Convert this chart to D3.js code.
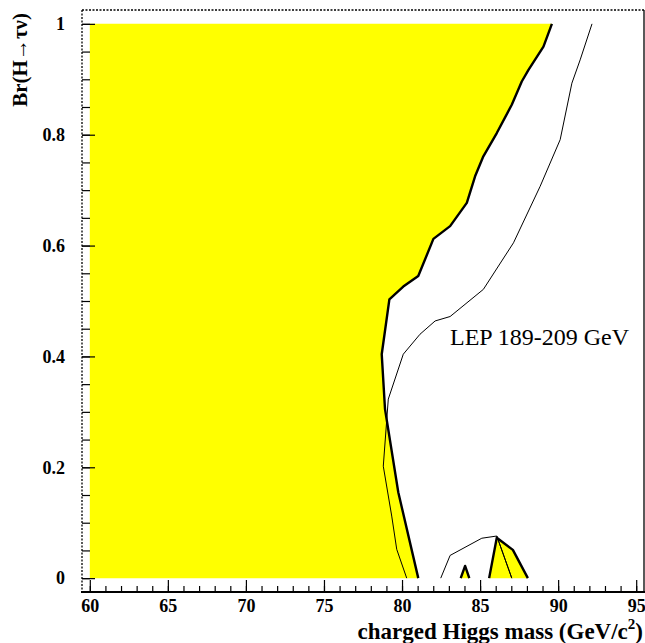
<!DOCTYPE html>
<html>
<head>
<meta charset="utf-8">
<script src="https://cdn.jsdelivr.net/npm/d3@7"></script>
<style>
  html, body { margin: 0; padding: 0; background: #fff; }
  svg text { font-family: "Liberation Serif", "Times New Roman", serif; }
</style>
</head>
<body>
<div id="chart"></div>
<script>
// x ticks (charged Higgs mass) and y ticks (branching ratio)
const xMajor = [60, 65, 70, 75, 80, 85, 90, 95];
const xMinor = d3.range(60, 96, 1);
const yMajor = [0, 0.2, 0.4, 0.6, 0.8, 1];
const yMinor = d3.range(0, 1.0001, 0.05);

// observed exclusion boundary (thick line), main region, top -> bottom
const obsMass = [89.6, 89.06, 88.10, 87.67, 87.03, 86.07, 85.21, 84.68, 84.15, 83.08, 82.01, 81.04, 80.08, 79.19, 78.70, 78.91, 79.76, 81.04];
const obsBr   = [1.0, 0.959, 0.917, 0.896, 0.854, 0.803, 0.761, 0.725, 0.677, 0.635, 0.612, 0.545, 0.526, 0.503, 0.404, 0.305, 0.155, 0.0];

// small excluded islands
const islandAMass = [83.76, 84.04, 84.31];
const islandABr   = [0, 0.022, 0];
const islandBMass = [85.58, 86.07, 87.10, 88.06];
const islandBBr   = [0, 0.073, 0.051, 0];

// expected limit (thin line)
const expMass = [92.17, 91.41, 90.88, 90.13, 88.85, 87.14, 85.21, 83.08, 82.12, 81.15, 80.08, 79.12, 78.80, 79.34, 79.66, 80.30];
const expBr   = [1.0, 0.935, 0.893, 0.791, 0.707, 0.605, 0.521, 0.472, 0.464, 0.44, 0.404, 0.323, 0.202, 0.112, 0.052, 0.0];
const exp2Mass = [82.48, 83.08, 85.11, 86.07, 87.03];
const exp2Br   = [0, 0.041, 0.072, 0.076, 0];

const W = 645, H = 643;
const frame = {left: 82, right: 644, top: 10, bottom: 592};
const serif = '"Liberation Serif", "Times New Roman", serif';

const svg = d3.select('#chart').append('svg')
  .attr('width', W).attr('height', H);

const x = d3.scaleLinear().domain([59.5, 95.5]).range([frame.left, frame.right]);
const y = d3.scaleLinear().domain([-0.025, 1.025]).range([frame.bottom, frame.top]);

const zip = (ms, bs) => ms.map((m, i) => [m, bs[i]]);
const line = d3.line().x(d => x(d[0])).y(d => y(d[1]));

// yellow excluded area
const mainPoly = [[60, 0], [60, 1]].concat(zip(obsMass, obsBr));
svg.append('path').attr('d', line(mainPoly) + 'Z').attr('fill', '#ffff00');
[[islandAMass, islandABr], [islandBMass, islandBBr]].forEach(([m, b]) => {
  svg.append('path').attr('d', line(zip(m, b)) + 'Z').attr('fill', '#ffff00');
});

// expected limit
svg.append('path').attr('d', line(zip(expMass, expBr)))
  .attr('fill', 'none').attr('stroke', '#000').attr('stroke-width', 1);
svg.append('path').attr('d', line(zip(exp2Mass, exp2Br)))
  .attr('fill', 'none').attr('stroke', '#000').attr('stroke-width', 1);
// inner expected line inside island B
svg.append('path').attr('d', line([[exp2Mass[3], exp2Br[3]], [exp2Mass[4], exp2Br[4]]]))
  .attr('fill', 'none').attr('stroke', '#000').attr('stroke-width', 1);

// observed boundary
[[obsMass, obsBr], [islandAMass, islandABr], [islandBMass, islandBBr]].forEach(([m, b]) => {
  svg.append('path').attr('d', line(zip(m, b)))
    .attr('fill', 'none').attr('stroke', '#000').attr('stroke-width', 2.4)
    .attr('stroke-linejoin', 'round');
});

// axes (ticks point inward)
const gx = svg.append('g').attr('transform', `translate(0,${frame.bottom})`);
gx.call(d3.axisBottom(x).tickValues(xMinor).tickSize(-6).tickFormat(''));
gx.select('.domain').remove();
const gx2 = svg.append('g').attr('transform', `translate(0,${frame.bottom})`);
gx2.call(d3.axisBottom(x).tickValues(xMajor).tickSize(-12).tickPadding(7).tickFormat(d3.format('d')));
gx2.select('.domain').remove();
[gx, gx2].forEach(g => g.selectAll('line').attr('stroke', '#000').attr('stroke-width', 1.2));
gx2.selectAll('text').attr('font-size', 18).attr('font-weight', 'bold').attr('fill', '#000')
  .attr('font-family', serif);

const gy = svg.append('g').attr('transform', `translate(${frame.left},0)`);
gy.call(d3.axisLeft(y).tickValues(yMinor).tickSize(-8).tickFormat(''));
gy.select('.domain').remove();
const gy2 = svg.append('g').attr('transform', `translate(${frame.left},0)`);
gy2.call(d3.axisLeft(y).tickValues(yMajor).tickSize(-13).tickPadding(17).tickFormat(d => String(+d.toFixed(1))));
gy2.select('.domain').remove();
[gy, gy2].forEach(g => g.selectAll('line').attr('stroke', '#000').attr('stroke-width', 1.2));
gy2.selectAll('text').attr('font-size', 18).attr('font-weight', 'bold').attr('fill', '#000')
  .attr('font-family', serif);

// frame
svg.append('line').attr('x1', frame.left).attr('x2', frame.right).attr('y1', frame.top).attr('y2', frame.top)
  .attr('stroke', '#000').attr('stroke-width', 1.3).attr('stroke-dasharray', '2,1.5');
svg.append('line').attr('x1', frame.left).attr('x2', frame.left).attr('y1', frame.top).attr('y2', frame.bottom)
  .attr('stroke', '#000').attr('stroke-width', 1.3).attr('stroke-dasharray', '2,1.5');
svg.append('line').attr('x1', frame.right).attr('x2', frame.right).attr('y1', frame.top).attr('y2', frame.bottom)
  .attr('stroke', '#000').attr('stroke-width', 1.3);
svg.append('line').attr('x1', frame.left - 1).attr('x2', frame.right + 1).attr('y1', frame.bottom).attr('y2', frame.bottom)
  .attr('stroke', '#000').attr('stroke-width', 2);

// titles
svg.append('text').attr('x', 643).attr('y', 639).attr('text-anchor', 'end')
  .attr('font-size', 23).attr('font-weight', 'bold')
  .html('charged Higgs mass (GeV/c<tspan dy="-10" font-size="15">2</tspan><tspan dy="10">)</tspan>');

svg.append('text').attr('transform', 'translate(27,13) rotate(-90)').attr('text-anchor', 'end')
  .attr('font-size', 21).attr('font-weight', 'bold')
  .text('Br(H\u2192\u03c4\u03bd)');

svg.append('text').attr('x', 450).attr('y', 345)
  .attr('font-size', 24).text('LEP 189-209 GeV');
</script>
</body>
</html>
